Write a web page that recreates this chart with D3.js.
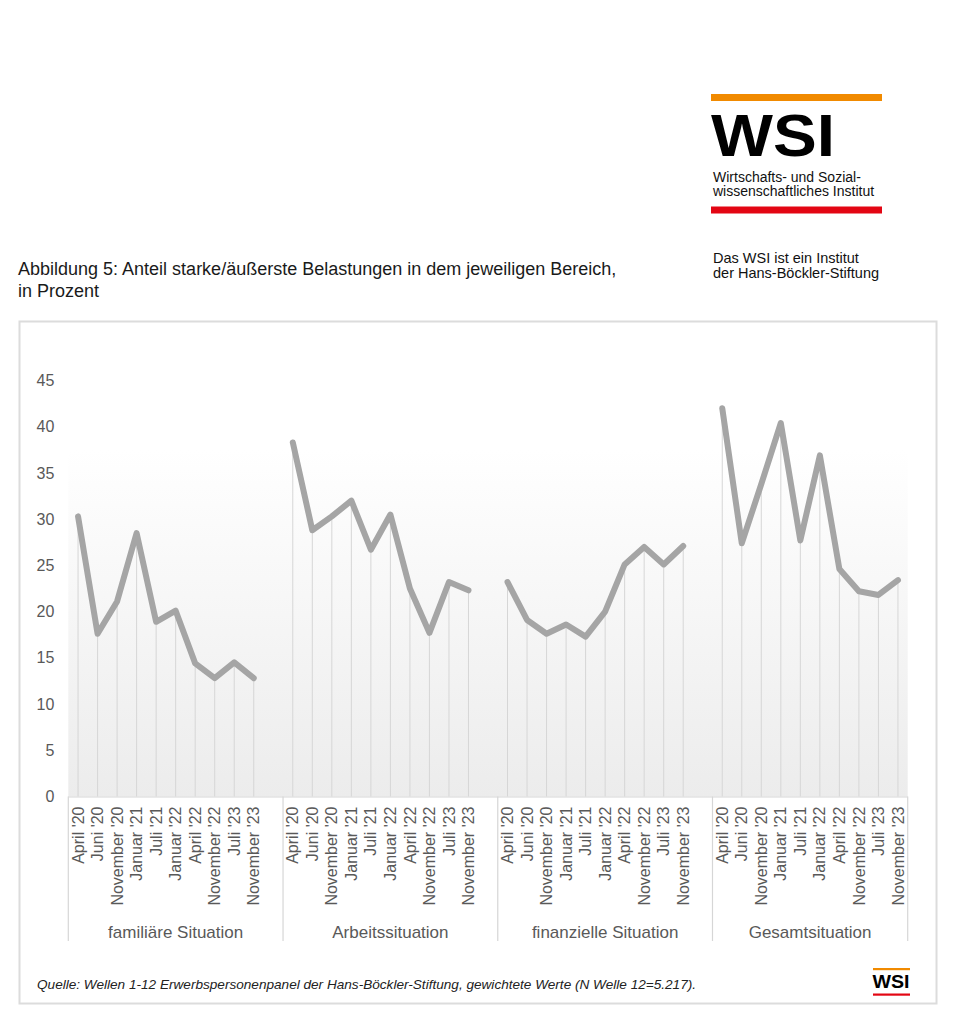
<!DOCTYPE html>
<html>
<head>
<meta charset="utf-8">
<script src="https://cdn.jsdelivr.net/npm/d3@7"></script>
<style>
  html, body { margin: 0; padding: 0; background: #fff; }
  svg { display: block; font-family: "Liberation Sans", Arial, sans-serif; }
</style>
</head>
<body>
<svg id="chart" width="956" height="1024"></svg>
<script>
// ---- data ----
const categories = ["April '20", "Juni '20", "November '20", "Januar '21", "Juli '21",
                    "Januar '22", "April '22", "November '22", "Juli '23", "November '23"];
const groups = ["familiäre Situation", "Arbeitssituation", "finanzielle Situation", "Gesamtsituation"];
const familiaereSituation = [30.3, 17.6, 21.1, 28.5, 18.9, 20.1, 14.4, 12.8, 14.5, 12.8];
const arbeitssituation    = [38.3, 28.8, 30.3, 32.0, 26.7, 30.5, 22.5, 17.7, 23.2, 22.3];
const finanzielleSituation = [23.2, 19.1, 17.6, 18.6, 17.3, 20.0, 25.1, 27.0, 25.1, 27.1];
const gesamtsituation     = [42.0, 27.4, 33.8, 40.4, 27.7, 36.9, 24.6, 22.2, 21.8, 23.4];
const seriesValues = [familiaereSituation, arbeitssituation, finanzielleSituation, gesamtsituation];
const yTicks = [0, 5, 10, 15, 20, 25, 30, 35, 40, 45];
const titleLines = ["Abbildung 5: Anteil starke/äußerste Belastungen in dem jeweiligen Bereich,", "in Prozent"];
const sourceText = "Quelle: Wellen 1-12 Erwerbspersonenpanel der Hans-Böckler-Stiftung, gewichtete Werte (N Welle 12=5.217).";

// ---- layout ----
const svg = d3.select("#chart");
const plotLeft = 68.3, plotRight = 907.7, plotBottom = 796.5, plotTop = 380.5;
const slotsPerGroup = categories.length + 1;
const totalSlots = slotsPerGroup * groups.length - 1;

const x = d3.scaleBand().domain(d3.range(totalSlots)).range([plotLeft, plotRight]).padding(0);
const y = d3.scaleLinear().domain([0, 45]).range([plotBottom, plotTop]);
const slot = (g, i) => g * slotsPerGroup + i;
const cx = s => x(s) + x.bandwidth() / 2;

// ---- header: title ----
svg.append("g").selectAll("text").data(titleLines).join("text")
  .attr("x", 18).attr("y", (d, i) => 275 + i * 22)
  .attr("font-size", 18).attr("fill", "#1a1a1a").text(d => d);

// ---- logo ----
const logo = svg.append("g");
logo.append("rect").attr("x", 711).attr("y", 94).attr("width", 171).attr("height", 7).attr("fill", "#f18a00");
logo.append("text").attr("x", 711).attr("y", 156).attr("font-size", 59).attr("font-weight", "bold")
  .attr("textLength", 124).attr("lengthAdjust", "spacingAndGlyphs")
  .attr("fill", "#000").text("WSI");
logo.append("text").attr("x", 713).attr("y", 181.5).attr("font-size", 14).attr("fill", "#111").text("Wirtschafts- und Sozial-");
logo.append("text").attr("x", 713).attr("y", 196).attr("font-size", 14).attr("fill", "#111").text("wissenschaftliches Institut");
logo.append("rect").attr("x", 711).attr("y", 206.5).attr("width", 171).attr("height", 7).attr("fill", "#e30613");
logo.append("text").attr("x", 713).attr("y", 263).attr("font-size", 14.5).attr("fill", "#111").text("Das WSI ist ein Institut");
logo.append("text").attr("x", 713).attr("y", 278).attr("font-size", 14.5).attr("fill", "#111").text("der Hans-Böckler-Stiftung");

// ---- frame ----
svg.append("rect").attr("x", 19.5).attr("y", 321.5).attr("width", 917).attr("height", 682)
  .attr("fill", "#fff").attr("stroke", "#dcdcdc").attr("stroke-width", 2);

// ---- plot background gradient ----
const defs = svg.append("defs");
const grad = defs.append("linearGradient").attr("id", "bg").attr("x1", 0).attr("y1", 0).attr("x2", 0).attr("y2", 1);
grad.append("stop").attr("offset", "0%").attr("stop-color", "#ffffff");
grad.append("stop").attr("offset", "100%").attr("stop-color", "#ececec");
svg.append("rect").attr("x", plotLeft).attr("y", y(37.5)).attr("width", plotRight - plotLeft)
  .attr("height", y(0) - y(37.5)).attr("fill", "url(#bg)");

// ---- y axis ----
const yAxis = svg.append("g").attr("transform", `translate(${plotLeft},0)`)
  .call(d3.axisLeft(y).tickValues(yTicks).tickSize(0).tickPadding(14));
yAxis.select(".domain").remove();
yAxis.selectAll("text").attr("font-size", 16).attr("fill", "#595959")
  .attr("font-family", "'Liberation Sans', Arial, sans-serif");

// ---- drop lines ----
const points = [];
seriesValues.forEach((vals, g) => vals.forEach((v, i) => points.push({ g, i, v, s: slot(g, i) })));
svg.append("g").selectAll("line").data(points).join("line")
  .attr("x1", d => cx(d.s)).attr("x2", d => cx(d.s))
  .attr("y1", d => y(d.v)).attr("y2", y(0))
  .attr("stroke", "#d6d6d6").attr("stroke-width", 1);

// ---- x axis (categories) ----
const tickSlots = points.map(d => d.s);
const labelOf = {};
points.forEach(d => labelOf[d.s] = categories[d.i]);
const xAxis = svg.append("g").attr("transform", `translate(0,${plotBottom})`)
  .call(d3.axisBottom(x).tickValues(tickSlots).tickSize(0).tickFormat(s => labelOf[s]));
xAxis.select(".domain").attr("stroke", "#d6d6d6").attr("stroke-width", 1.2)
  .attr("d", `M${plotLeft},0.5H${plotRight}`);
xAxis.selectAll("text")
  .attr("font-size", 16).attr("fill", "#595959")
  .attr("font-family", "'Liberation Sans', Arial, sans-serif")
  .attr("text-anchor", "end")
  .attr("transform", "translate(0,10) rotate(-90)")
  .attr("x", 0).attr("y", 0).attr("dy", "0.35em");

// group separators
const bounds = d3.range(groups.length).map(g => x(slot(g, 0))).concat([plotRight]);
svg.append("g").selectAll("line").data(bounds).join("line")
  .attr("x1", d => d).attr("x2", d => d).attr("y1", plotBottom).attr("y2", 941)
  .attr("stroke", "#d6d6d6").attr("stroke-width", 1.2);

// group labels
svg.append("g").selectAll("text").data(groups).join("text")
  .attr("x", (d, g) => (bounds[g] + bounds[g + 1]) / 2).attr("y", 938)
  .attr("text-anchor", "middle").attr("font-size", 17).attr("fill", "#595959").text(d => d);

// ---- lines ----
const line = d3.line().x(d => cx(d.s)).y(d => y(d.v));
svg.append("g").selectAll("path").data(d3.range(groups.length)).join("path")
  .attr("d", g => line(points.filter(p => p.g === g)))
  .attr("fill", "none").attr("stroke", "#a5a5a5").attr("stroke-width", 6)
  .attr("stroke-linejoin", "round").attr("stroke-linecap", "round");

// ---- footer ----
svg.append("text").attr("x", 37).attr("y", 989).attr("font-size", 13.6).attr("font-style", "italic")
  .attr("fill", "#222").text(sourceText);
const mini = svg.append("g");
mini.append("rect").attr("x", 873).attr("y", 968).attr("width", 37).attr("height", 2.2).attr("fill", "#f18a00");
mini.append("text").attr("x", 872.5).attr("y", 988).attr("font-size", 19).attr("font-weight", "bold")
  .attr("textLength", 37).attr("lengthAdjust", "spacingAndGlyphs")
  .attr("fill", "#000").text("WSI");
mini.append("rect").attr("x", 873).attr("y", 993.5).attr("width", 37).attr("height", 2.2).attr("fill", "#e30613");
</script>
</body>
</html>
